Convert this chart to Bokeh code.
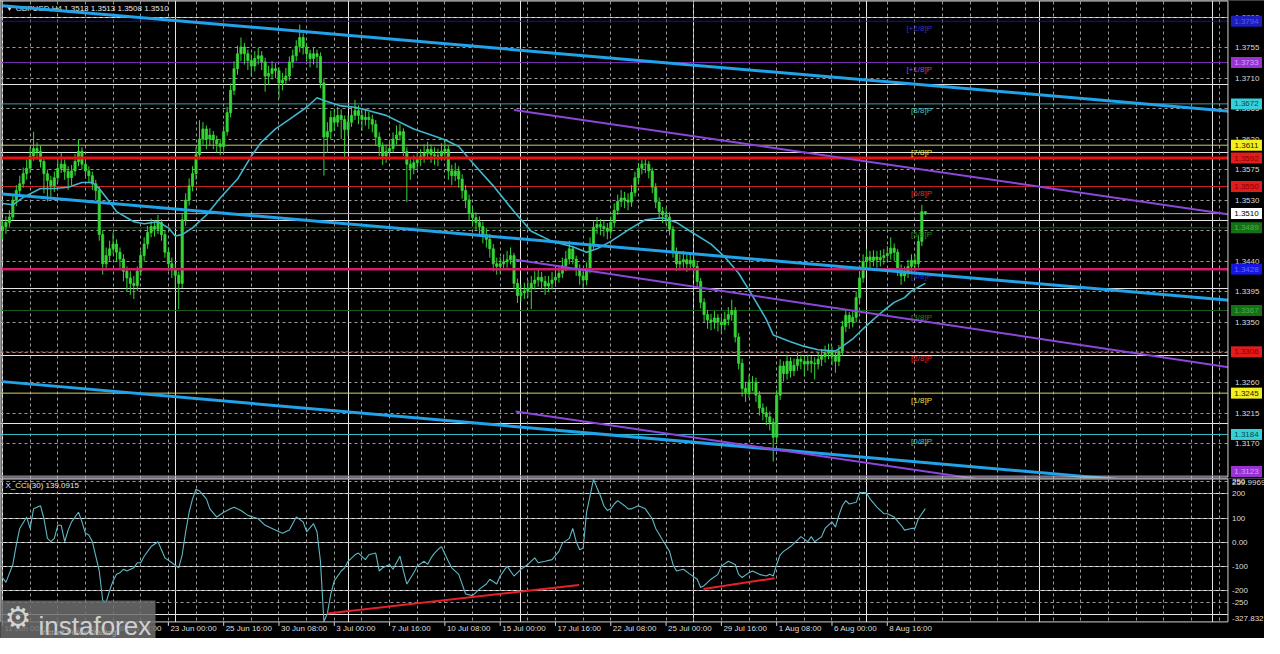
from bokeh.plotting import figure
from bokeh.layouts import column
from bokeh.models import Range1d, Grid, FixedTicker
from bokeh.core.properties import value
from bokeh.embed import file_html
from bokeh.resources import INLINE

# ---------------- data ----------------
chart_title = "\u25bc GBPUSD,H4  1.3513 1.3513 1.3508 1.3510"
cci_title = "X_CCI(30) 139.0915"

first_open = 1.3485
closes = [
    1.3491, 1.3497, 1.3505, 1.3530, 1.3544, 1.3554, 1.3569, 1.3577, 1.3595, 1.3606,
    1.3602, 1.3587, 1.3569, 1.3559, 1.3551, 1.3563, 1.3577, 1.3583, 1.3572, 1.3563,
    1.3573, 1.3587, 1.3602, 1.3583, 1.3573, 1.3566, 1.3554, 1.3544, 1.3479, 1.3436,
    1.3448, 1.3458, 1.3465, 1.3453, 1.3443, 1.3425, 1.3415, 1.3407, 1.3404, 1.3425,
    1.3448, 1.3465, 1.3482, 1.3491, 1.3487, 1.3497, 1.3479, 1.3453, 1.3436, 1.3428,
    1.3419, 1.3407, 1.3501, 1.3530, 1.3551, 1.3569, 1.3597, 1.3620, 1.3635, 1.3620,
    1.3626, 1.3619, 1.3613, 1.3609, 1.3631, 1.3659, 1.3692, 1.3724, 1.3746, 1.3756,
    1.3746, 1.3736, 1.3728, 1.3739, 1.3743, 1.3734, 1.3713, 1.3717, 1.3724, 1.3721,
    1.3703, 1.3707, 1.3713, 1.3734, 1.3743, 1.3757, 1.3770, 1.3756, 1.3746, 1.3739,
    1.3746, 1.3742, 1.3703, 1.3623, 1.3631, 1.3652, 1.3645, 1.3655, 1.3649, 1.3634,
    1.3645, 1.3655, 1.3662, 1.3655, 1.3649, 1.3652, 1.3649, 1.3642, 1.3623, 1.3609,
    1.3595, 1.3602, 1.3606, 1.3620, 1.3626, 1.3631, 1.3602, 1.3583, 1.3577, 1.3585,
    1.3590, 1.3595, 1.3599, 1.3605, 1.3597, 1.3595, 1.3595, 1.3602, 1.3605, 1.3573,
    1.3566, 1.3573, 1.3561, 1.3544, 1.3530, 1.3511, 1.3504, 1.3497, 1.3491, 1.3479,
    1.3472, 1.3458, 1.3436, 1.3432, 1.3436, 1.3439, 1.3442, 1.3448, 1.3407, 1.3389,
    1.3393, 1.3396, 1.3400, 1.3407, 1.3412, 1.3416, 1.3410, 1.3403, 1.3407, 1.3412,
    1.3416, 1.3422, 1.3433, 1.3443, 1.3458, 1.3443, 1.3429, 1.3418, 1.3412, 1.3429,
    1.3465, 1.3490, 1.3494, 1.3491, 1.3488, 1.3484, 1.3497, 1.3515, 1.3528, 1.3533,
    1.3530, 1.3527, 1.3541, 1.3563, 1.3577, 1.3583, 1.3583, 1.3573, 1.3549, 1.3527,
    1.3513, 1.3508, 1.3505, 1.3487, 1.3453, 1.3436, 1.3439, 1.3442, 1.3436, 1.3441,
    1.3432, 1.3410, 1.3379, 1.3361, 1.3353, 1.3350, 1.3356, 1.3350, 1.3346, 1.3354,
    1.3361, 1.3367, 1.3328, 1.3289, 1.3252, 1.3246, 1.3261, 1.3261, 1.3242, 1.3223,
    1.3216, 1.3210, 1.3202, 1.3180, 1.3242, 1.3285, 1.3274, 1.3292, 1.3278, 1.3286,
    1.3295, 1.3292, 1.3288, 1.3292, 1.3289, 1.3288, 1.3295, 1.3299, 1.3304, 1.3307,
    1.3299, 1.3292, 1.3307, 1.3343, 1.3360, 1.3350, 1.3357, 1.3386, 1.3415, 1.3439,
    1.3446, 1.3441, 1.3446, 1.3442, 1.3445, 1.3448, 1.3451, 1.3459, 1.3453, 1.3429,
    1.3418, 1.3422, 1.3432, 1.3441, 1.3436, 1.3469, 1.3513, 1.3510]
highs = [
    1.3500, 1.3506, 1.3515, 1.3538, 1.3552, 1.3566, 1.3578, 1.3590, 1.3608, 1.3631,
    1.3615, 1.3610, 1.3592, 1.3575, 1.3566, 1.3572, 1.3590, 1.3600, 1.3590, 1.3580,
    1.3582, 1.3598, 1.3620, 1.3608, 1.3590, 1.3580, 1.3572, 1.3560, 1.3550, 1.3485,
    1.3460, 1.3470, 1.3482, 1.3472, 1.3460, 1.3450, 1.3432, 1.3425, 1.3418, 1.3432,
    1.3455, 1.3475, 1.3492, 1.3503, 1.3500, 1.3508, 1.3502, 1.3485, 1.3460, 1.3445,
    1.3436, 1.3425, 1.3510, 1.3540, 1.3562, 1.3580, 1.3608, 1.3648, 1.3645, 1.3640,
    1.3636, 1.3632, 1.3625, 1.3620, 1.3640, 1.3668, 1.3702, 1.3735, 1.3758, 1.3770,
    1.3762, 1.3752, 1.3745, 1.3750, 1.3755, 1.3750, 1.3740, 1.3728, 1.3735, 1.3732,
    1.3726, 1.3718, 1.3725, 1.3742, 1.3752, 1.3766, 1.3789, 1.3776, 1.3762, 1.3752,
    1.3755, 1.3752, 1.3748, 1.3710, 1.3645, 1.3662, 1.3665, 1.3668, 1.3664, 1.3655,
    1.3655, 1.3668, 1.3678, 1.3670, 1.3662, 1.3665, 1.3660, 1.3656, 1.3648, 1.3630,
    1.3615, 1.3612, 1.3618, 1.3630, 1.3640, 1.3642, 1.3636, 1.3608, 1.3592, 1.3596,
    1.3600, 1.3605, 1.3612, 1.3616, 1.3612, 1.3608, 1.3606, 1.3614, 1.3618, 1.3610,
    1.3582, 1.3585, 1.3580, 1.3568, 1.3552, 1.3538, 1.3520, 1.3512, 1.3506, 1.3498,
    1.3488, 1.3480, 1.3465, 1.3445, 1.3446, 1.3450, 1.3455, 1.3460, 1.3452, 1.3414,
    1.3405, 1.3408, 1.3412, 1.3418, 1.3425, 1.3428, 1.3424, 1.3418, 1.3418, 1.3424,
    1.3428, 1.3434, 1.3445, 1.3455, 1.3470, 1.3462, 1.3448, 1.3435, 1.3425, 1.3438,
    1.3475, 1.3500, 1.3505, 1.3502, 1.3500, 1.3496, 1.3506, 1.3525, 1.3538, 1.3545,
    1.3542, 1.3540, 1.3552, 1.3572, 1.3585, 1.3590, 1.3592, 1.3588, 1.3578, 1.3555,
    1.3534, 1.3520, 1.3518, 1.3512, 1.3492, 1.3460, 1.3450, 1.3455, 1.3450, 1.3452,
    1.3448, 1.3438, 1.3415, 1.3385, 1.3368, 1.3362, 1.3366, 1.3362, 1.3358, 1.3365,
    1.3372, 1.3383, 1.3372, 1.3334, 1.3296, 1.3262, 1.3272, 1.3270, 1.3268, 1.3248,
    1.3230, 1.3225, 1.3218, 1.3208, 1.3250, 1.3295, 1.3292, 1.3302, 1.3298, 1.3296,
    1.3305, 1.3302, 1.3300, 1.3302, 1.3300, 1.3298, 1.3305, 1.3310, 1.3315, 1.3318,
    1.3314, 1.3305, 1.3316, 1.3352, 1.3368, 1.3365, 1.3366, 1.3395, 1.3425, 1.3450,
    1.3458, 1.3455, 1.3456, 1.3455, 1.3456, 1.3458, 1.3462, 1.3475, 1.3466, 1.3458,
    1.3435, 1.3432, 1.3442, 1.3450, 1.3450, 1.3478, 1.3523, 1.3513]
lows = [
    1.3472, 1.3480, 1.3490, 1.3500, 1.3521, 1.3535, 1.3548, 1.3560, 1.3570, 1.3588,
    1.3590, 1.3578, 1.3540, 1.3528, 1.3535, 1.3542, 1.3556, 1.3570, 1.3560, 1.3545,
    1.3552, 1.3566, 1.3580, 1.3575, 1.3562, 1.3556, 1.3545, 1.3530, 1.3470, 1.3420,
    1.3428, 1.3440, 1.3450, 1.3440, 1.3430, 1.3410, 1.3395, 1.3390, 1.3384, 1.3396,
    1.3418, 1.3440, 1.3458, 1.3475, 1.3476, 1.3480, 1.3470, 1.3445, 1.3425, 1.3415,
    1.3400, 1.3369, 1.3400, 1.3492, 1.3522, 1.3543, 1.3560, 1.3590, 1.3612, 1.3605,
    1.3610, 1.3605, 1.3600, 1.3596, 1.3602, 1.3625, 1.3652, 1.3685, 1.3715, 1.3735,
    1.3730, 1.3722, 1.3712, 1.3720, 1.3730, 1.3722, 1.3690, 1.3700, 1.3708, 1.3710,
    1.3680, 1.3692, 1.3700, 1.3706, 1.3725, 1.3735, 1.3748, 1.3745, 1.3734, 1.3726,
    1.3730, 1.3725, 1.3695, 1.3566, 1.3600, 1.3620, 1.3632, 1.3638, 1.3620, 1.3590,
    1.3625, 1.3638, 1.3648, 1.3642, 1.3632, 1.3640, 1.3635, 1.3630, 1.3610, 1.3595,
    1.3582, 1.3585, 1.3592, 1.3600, 1.3612, 1.3618, 1.3595, 1.3527, 1.3560, 1.3568,
    1.3575, 1.3580, 1.3585, 1.3590, 1.3585, 1.3582, 1.3580, 1.3588, 1.3592, 1.3560,
    1.3552, 1.3558, 1.3548, 1.3532, 1.3518, 1.3500, 1.3492, 1.3485, 1.3478, 1.3466,
    1.3460, 1.3445, 1.3425, 1.3420, 1.3422, 1.3428, 1.3430, 1.3435, 1.3398, 1.3378,
    1.3380, 1.3384, 1.3386, 1.3369, 1.3398, 1.3402, 1.3398, 1.3390, 1.3394, 1.3398,
    1.3402, 1.3408, 1.3415, 1.3425, 1.3435, 1.3435, 1.3418, 1.3405, 1.3400, 1.3404,
    1.3422, 1.3458, 1.3480, 1.3478, 1.3476, 1.3472, 1.3478, 1.3490, 1.3508, 1.3520,
    1.3518, 1.3515, 1.3520, 1.3535, 1.3556, 1.3568, 1.3570, 1.3562, 1.3540, 1.3518,
    1.3502, 1.3496, 1.3494, 1.3478, 1.3445, 1.3425, 1.3426, 1.3430, 1.3424, 1.3428,
    1.3420, 1.3400, 1.3370, 1.3350, 1.3340, 1.3338, 1.3340, 1.3336, 1.3332, 1.3338,
    1.3345, 1.3352, 1.3320, 1.3280, 1.3240, 1.3232, 1.3238, 1.3248, 1.3232, 1.3212,
    1.3205, 1.3198, 1.3190, 1.3144, 1.3172, 1.3235, 1.3262, 1.3265, 1.3268, 1.3270,
    1.3278, 1.3280, 1.3270, 1.3278, 1.3275, 1.3265, 1.3280, 1.3285, 1.3290, 1.3295,
    1.3286, 1.3275, 1.3285, 1.3300, 1.3335, 1.3340, 1.3342, 1.3350, 1.3378, 1.3408,
    1.3430, 1.3430, 1.3432, 1.3430, 1.3432, 1.3435, 1.3438, 1.3442, 1.3440, 1.3418,
    1.3405, 1.3410, 1.3415, 1.3425, 1.3425, 1.3430, 1.3462, 1.3508]

# moving average (bar index, price)
ma_bars = [0, 3, 6, 11, 15, 19, 23, 26, 28, 31,
           33, 38, 41, 45, 48, 50, 52, 55, 59, 63,
           68, 72, 75, 79, 83, 88, 91, 93, 98, 102,
           106, 111, 115, 119, 123, 128, 132, 136, 142, 148,
           153, 159, 165, 169, 172, 176, 182, 186, 191, 195,
           199, 205, 209, 213, 216, 221, 223, 228, 232, 236,
           241, 243, 246, 249, 252, 255, 258, 261, 263, 267]
ma_values = [1.3525, 1.3523, 1.3534, 1.3547, 1.3547, 1.3549, 1.3556, 1.3556, 1.3547, 1.3527,
             1.3513, 1.3498, 1.3495, 1.3498, 1.3489, 1.3477, 1.3479, 1.3489, 1.3508, 1.3533,
             1.3561, 1.3595, 1.3616, 1.3635, 1.3649, 1.3667, 1.3681, 1.3677, 1.3669, 1.3667,
             1.3662, 1.3655, 1.3645, 1.3635, 1.3628, 1.3619, 1.3609, 1.3585, 1.3551, 1.3513,
             1.3484, 1.3469, 1.3461, 1.3453, 1.3458, 1.3469, 1.3489, 1.3501, 1.3504, 1.3497,
             1.3484, 1.3465, 1.3446, 1.3422, 1.3397, 1.3354, 1.3331, 1.3321, 1.3314, 1.3309,
             1.3307, 1.3314, 1.3325, 1.3340, 1.3354, 1.3367, 1.3379, 1.3386, 1.3396, 1.3407]

# CCI(30) (bar index, value)
cci_bars = [0, 1, 3, 4, 5, 7, 8, 9, 11, 12,
            13, 14, 15, 16, 17, 18, 19, 20, 22, 23,
            24, 25, 26, 28, 29, 30, 31, 32, 33, 34,
            35, 36, 38, 39, 40, 41, 43, 45, 46, 47,
            49, 51, 52, 53, 54, 55, 56, 57, 59, 60,
            62, 64, 66, 67, 69, 71, 74, 76, 78, 81,
            83, 85, 87, 88, 90, 91, 92, 93, 94, 95,
            96, 98, 99, 100, 102, 103, 105, 106, 108, 109,
            110, 112, 113, 115, 116, 117, 119, 120, 122, 123,
            124, 125, 126, 127, 129, 130, 132, 134, 136, 138,
            140, 141, 143, 144, 146, 148, 150, 152, 154, 155,
            157, 159, 161, 162, 164, 165, 166, 167, 168, 169,
            170, 171, 172, 173, 174, 175, 176, 177, 178, 180,
            181, 182, 184, 186, 188, 189, 191, 193, 194, 195,
            197, 199, 201, 202, 203, 205, 207, 208, 210, 212,
            213, 214, 216, 217, 219, 221, 222, 223, 224, 225,
            226, 228, 230, 231, 233, 234, 235, 237, 238, 240,
            241, 242, 243, 244, 245, 247, 248, 250, 251, 253,
            255, 256, 258, 260, 261, 263, 264, 265, 267]
cci_values = [-146, -166, -92, -11, 57, 104, 57, 138, 151, 97,
              16, 2, 16, 70, 70, 2, 50, 84, 124, 84,
              37, 30, 2, -119, -241, -248, -200, -160, -133, -126,
              -112, -119, -106, -85, -85, -58, -18, 2, -31, -65,
              -85, -106, -52, 43, 124, 179, 219, 212, 179, 138,
              104, 124, 138, 145, 131, 111, 97, 70, 57, 37,
              50, 104, 84, 43, 77, 43, -79, -327.832, -295, -214,
              -160, -119, -106, -79, -52, -45, -72, -52, -45, -119,
              -106, -92, -112, -58, -119, -173, -126, -99, -79, -92,
              -65, -45, -31, -18, -79, -106, -133, -214, -221, -194,
              -173, -153, -173, -140, -99, -140, -112, -92, -65, -85,
              -79, -72, -38, -4, 16, 57, 2, -31, -24, 124,
              192, 259.9969, 225, 192, 151, 131, 138, 158, 172, 151,
              138, 138, 151, 138, 97, 57, 9, -38, -92, -119,
              -112, -133, -153, -187, -180, -153, -133, -99, -79, -92,
              -133, -146, -126, -119, -133, -140, -133, -140, -92, -52,
              -38, -18, 9, 23, 2, 23, 2, 23, 57, 84,
              63, 111, 151, 172, 158, 165, 205, 205, 179, 145,
              118, 118, 104, 70, 50, 57, 57, 97, 139.0915]
cci_max = 259.9969
cci_min = -327.832

time_tick_bars = [0, 16, 32, 48, 64, 80, 96, 112, 128, 144, 160, 176, 192, 208, 224, 240, 256]
time_tick_labels = ["11 Jun 00:00", "13 Jun 16:00", "18 Jun 08:00", "23 Jun 00:00", "25 Jun 16:00",
                    "30 Jun 08:00", "3 Jul 00:00", "7 Jul 16:00", "10 Jul 08:00", "15 Jul 00:00",
                    "17 Jul 16:00", "22 Jul 08:00", "25 Jul 00:00", "29 Jul 16:00", "1 Aug 08:00",
                    "6 Aug 00:00", "8 Aug 16:00"]
price_ticks = [1.3800, 1.3755, 1.3710, 1.3665, 1.3620, 1.3575, 1.3530, 1.3485,
               1.3440, 1.3395, 1.3350, 1.3305, 1.3260, 1.3215, 1.3170]
cci_ticks = [250, 200, 100, 0, -100, -200, -250]
cci_tick_labels = ["250", "200", "100", "0.00", "-100", "-200", "-250"]

murray_names = ["[+2/8]P", "[+1/8]P", "[8/8]P", "[7/8]P", "[6/8]P", "[5/8]P",
                "[4/8]P", "[3/8]P", "[2/8]P", "[1/8]P", "[0/8]P", "[-1/8]P"]
murray_levels = [1.3794, 1.3733, 1.3672, 1.3611, 1.3550, 1.3489,
                 1.3428, 1.3367, 1.3306, 1.3245, 1.3184, 1.3123]
resistance_level = 1.3592
support_level = 1.3428
bid_price = 1.3510

# trend channels: anchor points (bar index, price)
blue_x0 = [0, 0, 0]
blue_p0 = [1.3817, 1.3539, 1.3262]
blue_x1 = [360, 360, 360]
blue_p1 = [1.3659, 1.3380, 1.3101]
purple_x0 = [148, 148.5, 148.5]
purple_p0 = [1.3663, 1.3442, 1.3218]
purple_x1 = [360, 360, 360]
purple_p1 = [1.3505, 1.3279, 1.3060]
cci_trend_x0 = [94, 202.8]
cci_trend_v0 = [-295, -194]
cci_trend_x1 = [166.8, 223.4]
cci_trend_v1 = [-177, -149]

# ---------------- styles ----------------
murray_line_colors = ["#16169a", "#7a30b4", "#3a9ea6", "#c8c878", "#cc2222", "#1a5e1a",
                      "#2323d8", "#1a5e1a", "#e0402a", "#d4d460", "#3cc0c8", "#8a2be2"]
murray_text_colors = ["#3434d8", "#a040e8", "#3cc8d0", "#e2e240", "#e03030", "#1e8a1e",
                      "#2a2ae8", "#1e8a1e", "#e03030", "#e2e240", "#3cc8d0", "#a040e8"]
box_fill_colors = ["#1e1eb8", "#9a32d2", "#36d0d8", "#f0f020", "#e01c1c", "#167016",
                   "#1616e0", "#167016", "#e01c1c", "#f0f020", "#36d0d8", "#9a32d2"]
box_text_colors = ["#5a5aff", "#d0a0ff", "#0c4a4c", "#1a1a00", "#8a0000", "#48b048",
                   "#6a6aff", "#48b048", "#8a0000", "#1a1a00", "#0c4a4c", "#d0a0ff"]
GREEN = "#36d636"
FONT = value("Liberation Sans")
AXIS_TEXT = "#dcdcdc"
GRID = dict(grid_line_color="#9a9a9a", grid_line_dash="3 3", grid_line_width=1)

W, H_MAIN, H_CCI = 1264, 478, 160
X0, X1 = -0.571, 365.14
EDGE = 354.57
Y_BOT, Y_TOP = 1.3119, 1.38246
MAIN_FRAME_BOTTOM = 1.31212
C_BOT, C_TOP = -398.3, 263.5
CCI_FRAME_TOP, CCI_FRAME_BOTTOM = 261.5, -329.7
BPP = (X1 - X0) / W
PPP = (Y_TOP - Y_BOT) / H_MAIN
CPP = (C_TOP - C_BOT) / H_CCI
x_grid_ticks = list(range(0, 360, 8))

x_range = Range1d(X0, X1)

def make_fig(height, y0, y1):
    f = figure(width=W, height=height, x_range=x_range, y_range=Range1d(y0, y1),
               output_backend="svg", toolbar_location=None,
               x_axis_location=None, y_axis_location=None,
               background_fill_color="black", border_fill_color="black",
               min_border=0, outline_line_color=None)
    return f

# ---------------- main price panel ----------------
p = make_fig(H_MAIN, Y_BOT, Y_TOP)
p.add_layout(Grid(dimension=0, ticker=FixedTicker(ticks=x_grid_ticks), **GRID))
p.add_layout(Grid(dimension=1, ticker=FixedTicker(ticks=price_ticks), **GRID))

p.text(x=[X0 + 5 * BPP], y=[Y_TOP - 8 * PPP], text=[chart_title], text_font=FONT,
       text_font_size="8px", text_color="#e8e8e8", text_baseline="middle", text_align="left")

for lvl, col in zip(murray_levels, murray_line_colors):
    dash = "3 2" if lvl == murray_levels[8] else "solid"
    p.segment(x0=[X0], x1=[X1], y0=[lvl], y1=[lvl], line_color=col, line_width=1, line_dash=dash)
p.segment(x0=[X0], x1=[X1], y0=[bid_price], y1=[bid_price], line_color="#a8a8a8", line_width=1)

n = min(len(closes), len(highs), len(lows))
opens = [first_open] + closes[:n - 1]
bars = list(range(n))
body_top = [max(opens[i], closes[i]) for i in bars]
body_bot = [min(opens[i], closes[i]) for i in bars]
wick_hi = [max(highs[i], body_top[i]) for i in bars]
wick_lo = [min(lows[i], body_bot[i]) for i in bars]
p.segment(x0=bars, x1=bars, y0=wick_lo, y1=wick_hi, line_color=GREEN, line_width=1)
p.vbar(x=bars, width=0.62, top=body_top, bottom=body_bot, fill_color=GREEN,
       line_color=GREEN, line_width=0.8)

p.line(ma_bars, ma_values, line_color="#41b6cc", line_width=1.6)

p.segment(x0=[X0], x1=[X1], y0=[resistance_level], y1=[resistance_level],
          line_color="#e81010", line_width=3)
p.segment(x0=[X0], x1=[X1], y0=[support_level], y1=[support_level],
          line_color="#d01c6a", line_width=2.5)

# Murray level names, right-aligned a little left of the last candle area
MURRAY_TEXT_X = EDGE - 296 * BPP
p.text(x=[MURRAY_TEXT_X] * 11, y=murray_levels[:11], text=murray_names[:11],
       text_color=murray_text_colors[:11], text_font=FONT, text_font_size="8px",
       text_align="right", text_baseline="middle", y_offset=7)

p.segment(x0=blue_x0, y0=blue_p0, x1=blue_x1, y1=blue_p1, line_color="#22a2e8", line_width=3)
p.segment(x0=purple_x0, y0=purple_p0, x1=purple_x1, y1=purple_p1, line_color="#8c46dc", line_width=2)

# right price scale
p.quad(left=[EDGE], right=[X1 + 5], bottom=[Y_BOT - 1], top=[Y_TOP + 1],
       fill_color="black", line_color=None)
p.quad(left=[X0 + 0.5 * BPP], right=[EDGE], top=[Y_TOP - 0.5 * PPP], bottom=[MAIN_FRAME_BOTTOM],
       fill_alpha=0, line_color="#d4d4d4", line_width=1)
p.text(x=[EDGE] * len(price_ticks), y=price_ticks, text=["%.4f" % t for t in price_ticks],
       x_offset=7, text_font=FONT, text_font_size="8px", text_color=AXIS_TEXT,
       text_baseline="middle", text_align="left")

BOX_X = EDGE + 18.5 * BPP
box_levels = murray_levels + [resistance_level, bid_price]
box_y = [max(v, Y_BOT + 7 * PPP) for v in box_levels]   # keep the lowest tag inside the panel
box_fill = box_fill_colors + ["#e01c1c", "#ffffff"]
box_text = box_text_colors + ["#8a0000", "#000000"]
p.rect(x=[BOX_X] * len(box_levels), y=box_y, width=31, height=11,
       width_units="screen", height_units="screen", fill_color=box_fill, line_color=None)
p.text(x=[BOX_X] * len(box_levels), y=box_y, text=["%.4f" % v for v in box_levels],
       text_color=box_text, text_font=FONT, text_font_size="8px",
       text_align="center", text_baseline="middle")

# ---------------- CCI panel ----------------
q = make_fig(H_CCI, C_BOT, C_TOP)
q.add_layout(Grid(dimension=0, ticker=FixedTicker(ticks=x_grid_ticks), **GRID))
q.add_layout(Grid(dimension=1, ticker=FixedTicker(ticks=cci_ticks), **GRID))

q.text(x=[X0 + 5 * BPP], y=[C_TOP - 7 * CPP], text=[cci_title], text_font=FONT,
       text_font_size="8px", text_color="#e8e8e8", text_baseline="middle", text_align="left")
q.line(cci_bars, cci_values, line_color="#5fb9c5", line_width=1.1)
q.segment(x0=cci_trend_x0, y0=cci_trend_v0, x1=cci_trend_x1, y1=cci_trend_v1,
          line_color="#e8202a", line_width=2)

q.quad(left=[EDGE], right=[X1 + 5], bottom=[C_BOT - 10], top=[C_TOP + 10],
       fill_color="black", line_color=None)
q.quad(left=[X0 - 5], right=[X1 + 5], bottom=[C_BOT - 10], top=[CCI_FRAME_BOTTOM],
       fill_color="black", line_color=None)
q.quad(left=[X0 + 0.5 * BPP], right=[EDGE], top=[CCI_FRAME_TOP], bottom=[CCI_FRAME_BOTTOM],
       fill_alpha=0, line_color="#d4d4d4", line_width=1)

q.text(x=[EDGE] * len(cci_ticks), y=cci_ticks, text=cci_tick_labels, x_offset=4,
       text_font=FONT, text_font_size="8px", text_color=AXIS_TEXT,
       text_baseline="middle", text_align="left")
q.text(x=[EDGE], y=[cci_max], text=["%.4f" % cci_max], x_offset=4, y_offset=1, text_font=FONT,
       text_font_size="8px", text_color=AXIS_TEXT, text_baseline="top", text_align="left")
q.text(x=[EDGE], y=[cci_min], text=["%.3f" % cci_min], x_offset=4, text_font=FONT,
       text_font_size="8px", text_color=AXIS_TEXT, text_baseline="bottom", text_align="left")

q.segment(x0=time_tick_bars, x1=time_tick_bars, y0=[CCI_FRAME_BOTTOM] * len(time_tick_bars),
          y1=[CCI_FRAME_BOTTOM - 4 * CPP] * len(time_tick_bars), line_color="#d4d4d4", line_width=1)
q.text(x=time_tick_bars, y=[CCI_FRAME_BOTTOM - 7 * CPP] * len(time_tick_bars), text=time_tick_labels,
       x_offset=2, text_font=FONT, text_font_size="8px", text_color=AXIS_TEXT,
       text_baseline="middle", text_align="left")

# instaforex watermark
q.quad(left=[X0], right=[X0 + 155 * BPP], bottom=[C_BOT], top=[C_BOT + 38 * CPP],
       fill_color="#6e6e6e", fill_alpha=0.85, line_color=None)
q.text(x=[X0 + 4 * BPP], y=[C_BOT + 21 * CPP], text=["\u2699"], text_font=value("DejaVu Sans"),
       text_font_size="30px", text_color="#d4d4d4", text_baseline="middle", text_align="left")
q.text(x=[X0 + 38 * BPP], y=[C_BOT + 13 * CPP], text=["instaforex"], text_font=FONT,
       text_font_size="26px", text_color="#d0d0d0", text_baseline="alphabetic", text_align="left")
q.text(x=[X0 + 40 * BPP], y=[C_BOT + 6 * CPP], text=["Instant Forex Trading"], text_font=FONT,
       text_font_size="8px", text_color="#a8a8a8", text_baseline="middle", text_align="left")

layout = column(p, q)
open("out.html", "w").write(file_html(layout, INLINE))
